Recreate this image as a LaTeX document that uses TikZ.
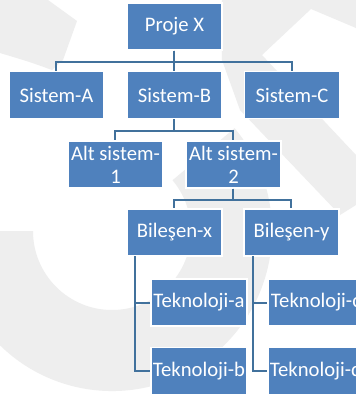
\documentclass[tikz,border=0pt]{standalone}
\usepackage{fontspec}
\setmainfont{Carlito}
\definecolor{boxblue}{HTML}{4F81BD}
\definecolor{lineblue}{HTML}{41719C}
\definecolor{wmgray}{HTML}{EEEEEE}
\tikzset{
    kutu/.style={draw=white, line width=1.1pt, fill=boxblue, text=white, align=center,
        minimum width=71.25pt, minimum height=35.25pt, inner sep=0pt,
        font=\fontsize{15.5}{17}\selectfont},
    bag/.style={draw=lineblue, line width=1.5pt},
    wm/.style={fill=wmgray}
}
\begin{document}
\begin{tikzpicture}[x=0.75pt, y=-0.75pt]
    \useasboundingbox (0, 0) rectangle (356, 394);
    \clip (0, 0) rectangle (356, 394);
    \fill[white] (0, 0) rectangle (356, 394);
    % arka plan filigrani
    \fill [wm] (0, 0) -- (48, 0) -- (77, 21) -- (63, 60) -- (52, 70) .. controls (30, 62) .. (0, 53) -- cycle;
    \fill [wm] (222, 0) -- (356, 0) -- (356, 28) -- (311, 9) -- (262, 55) -- (356, 155) -- (356, 205)
        -- (340, 215) -- (240, 110) -- (222, 60) -- cycle;
    \fill [wm] (234.6, 128.2) arc [start angle=-40, end angle=180, radius=160] -- (33, 231)
        arc [start angle=180, end angle=-40, radius=79] -- cycle;
    % seviye 0 ve 1
    \node [kutu] (proje) at (174.5, 26.5){Proje X};
    \node [kutu] (sisA) at (56.5, 95){Sistem-A};
    \node [kutu] (sisB) at (174.5, 95){Sistem-B};
    \node [kutu] (sisC) at (292, 95){Sistem-C};
    \draw [bag] (proje.south) -- ++(0, 11) -| (sisA.north);
    \draw [bag] (proje.south) -- ++(0, 11) -| (sisC.north);
    \draw [bag] (proje.south) -- (sisB.north);
    % alt sistemler
    \node [kutu] (alt1) at (115.5, 164.5){Alt sistem-\\1};
    \node [kutu] (alt2) at (233.5, 164.5){Alt sistem-\\2};
    \draw [bag] (sisB.south) -- ++(0, 12) -| (alt1.north);
    \draw [bag] (sisB.south) -- ++(0, 12) -| (alt2.north);
    % bilesenler
    \node [kutu] (bilX) at (174.5, 232.5){Bileşen-x};
    \node [kutu] (bilY) at (291.5, 232.5){Bileşen-y};
    \draw [bag] (alt2.south) -- ++(0, 11) -| (bilX.north);
    \draw [bag] (alt2.south) -- ++(0, 11) -| (bilY.north);
    % teknolojiler
    \node [kutu, minimum width=72pt] (tekA) at (199, 302.5){Teknoloji-a};
    \node [kutu, minimum width=72pt] (tekB) at (199, 371){Teknoloji-b};
    \node [kutu, minimum width=72pt] (tekC) at (316, 302.5){Teknoloji-c};
    \node [kutu, minimum width=72pt] (tekD) at (316, 371){Teknoloji-d};
    \coordinate (bx) at (135, 256);
    \coordinate (by) at (253, 256);
    \draw [bag] (bx) |- (tekA.west);
    \draw [bag] (bx) |- (tekB.west);
    \draw [bag] (by) |- (tekC.west);
    \draw [bag] (by) |- (tekD.west);
\end{tikzpicture}
\end{document}
